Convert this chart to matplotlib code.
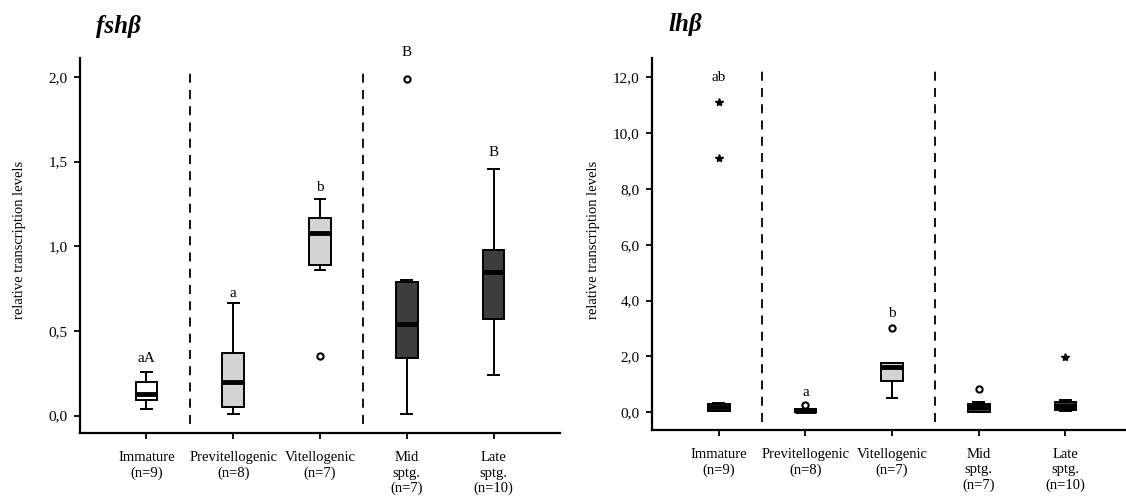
import matplotlib
matplotlib.use("Agg")
import matplotlib.pyplot as plt
from matplotlib.ticker import FixedLocator, FuncFormatter

# ---------------- data ----------------
categories = ["Immature\n(n=9)", "Previtellogenic\n(n=8)", "Vitellogenic\n(n=7)",
              "Mid\nsptg.\n(n=7)", "Late\nsptg.\n(n=10)"]

fsh_whislo = [0.04, 0.01, 0.86, 0.01, 0.24]
fsh_q1 = [0.093, 0.05, 0.89, 0.34, 0.57]
fsh_med = [0.13, 0.20, 1.08, 0.54, 0.85]
fsh_q3 = [0.197, 0.37, 1.165, 0.79, 0.98]
fsh_whishi = [0.26, 0.665, 1.28, 0.80, 1.457]
fsh_outliers = [[], [], [0.35], [1.99], []]
fsh_extremes = [[], [], [], [], []]
fsh_letters = ["aA", "a", "b", "B", "B"]
fsh_yticks = [0.0, 0.5, 1.0, 1.5, 2.0]

lh_whislo = [0.05, 0.0, 0.50, 0.0, 0.05]
lh_q1 = [0.06, 0.01, 1.12, 0.02, 0.07]
lh_med = [0.18, 0.05, 1.62, 0.18, 0.22]
lh_q3 = [0.30, 0.12, 1.78, 0.29, 0.38]
lh_whishi = [0.32, 0.13, 1.78, 0.38, 0.44]
lh_outliers = [[], [0.26], [3.03], [0.83], []]
lh_extremes = [[9.09, 11.12], [], [], [], [1.97]]
lh_letters = ["ab", "a", "b", "", ""]
lh_yticks = [0.0, 2.0, 4.0, 6.0, 8.0, 10.0, 12.0]

# ---------------- layout / style ----------------
fsh_letter_pad = [7, 4.5, 6, 16, 9.5]   # points above highest mark
lh_letter_pad = [15, 6.5, 8, 0, 0]

plt.rcParams['font.family'] = ['Liberation Serif', 'DejaVu Serif']
box_colors = ["white", "#d3d3d3", "#d3d3d3", "#3d3d3d", "#3d3d3d"]
W, H = 1126, 499

fig = plt.figure(figsize=(W / 100, H / 100), dpi=100)
ax1 = fig.add_axes([80 / W, 65.7 / H, 480 / W, 375 / H])
ax2 = fig.add_axes([652 / W, 69 / H, 474 / W, 371.7 / H])


def comma(v, _):
    return f"{v:.1f}".replace('.', ',')


def panel(ax, whislo, q1, med, q3, whishi, outliers, extremes, letters, pads,
          yticks, ylim, xlim, dash_span, title, title_x, title_y, ylabel_x):
    pos = list(range(1, len(categories) + 1))
    stats = []
    for i in range(len(categories)):
        stats.append(dict(whislo=whislo[i], q1=q1[i], med=med[i], q3=q3[i],
                          whishi=whishi[i], fliers=outliers[i]))
    bp = ax.bxp(stats, positions=pos, widths=0.25, capwidths=0.125,
                patch_artist=True, showfliers=True,
                boxprops=dict(linewidth=1.4, edgecolor='black'),
                whiskerprops=dict(linewidth=1.4, color='black'),
                capprops=dict(linewidth=1.4, color='black'),
                medianprops=dict(linewidth=3.5, color='black', solid_capstyle='butt'),
                flierprops=dict(marker='o', markerfacecolor='white',
                                markeredgecolor='black', markersize=4.5,
                                markeredgewidth=1.5, linestyle='none'))
    for patch, c in zip(bp['boxes'], box_colors):
        patch.set_facecolor(c)
    for i, ex in enumerate(extremes):
        if ex:
            ax.plot([pos[i]] * len(ex), ex, linestyle='none', marker='*',
                    color='black', markersize=6)
    # significance letters
    for i, let in enumerate(letters):
        if not let:
            continue
        top = max([whishi[i]] + outliers[i] + extremes[i])
        ax.annotate(let, xy=(pos[i], top), xytext=(0, pads[i]),
                    textcoords='offset points', ha='center', va='baseline',
                    fontsize=11)
    for xd in (1.5, 3.5):
        ax.plot([xd, xd], dash_span, color='black', linewidth=1.3,
                linestyle=(0, (5, 4)))
    ax.set_xlim(*xlim)
    ax.set_ylim(*ylim)
    ax.set_xticks(pos)
    ax.set_xticklabels(categories, fontsize=10.5, linespacing=1.22)
    ax.yaxis.set_major_locator(FixedLocator(yticks))
    ax.yaxis.set_major_formatter(FuncFormatter(comma))
    ax.tick_params(axis='y', labelsize=11, length=4, width=1.3, pad=5)
    ax.tick_params(axis='x', length=4, width=1.3, pad=9)
    for s in ('top', 'right'):
        ax.spines[s].set_visible(False)
    for s in ('left', 'bottom'):
        ax.spines[s].set_linewidth(1.6)
    fig.text(ylabel_x / W, 0.52, "relative transcription levels", rotation=90,
             ha='center', va='center', fontsize=10.5)
    fig.text(title_x / W, 1 - title_y / H, title, fontsize=18,
             fontweight='bold', fontstyle='italic', ha='left', va='baseline')


panel(ax1, fsh_whislo, fsh_q1, fsh_med, fsh_q3, fsh_whishi, fsh_outliers,
      fsh_extremes, fsh_letters, fsh_letter_pad, fsh_yticks, (-0.104, 2.11),
      (0.235, 5.765), (-0.05, 2.04), "fshβ", 96, 33, 20)
panel(ax2, lh_whislo, lh_q1, lh_med, lh_q3, lh_whishi, lh_outliers,
      lh_extremes, lh_letters, lh_letter_pad, lh_yticks, (-0.63, 12.67),
      (0.23, 5.70), (-0.33, 12.25), "lhβ", 668, 31, 594)

fig.savefig("out.png", dpi=100)
